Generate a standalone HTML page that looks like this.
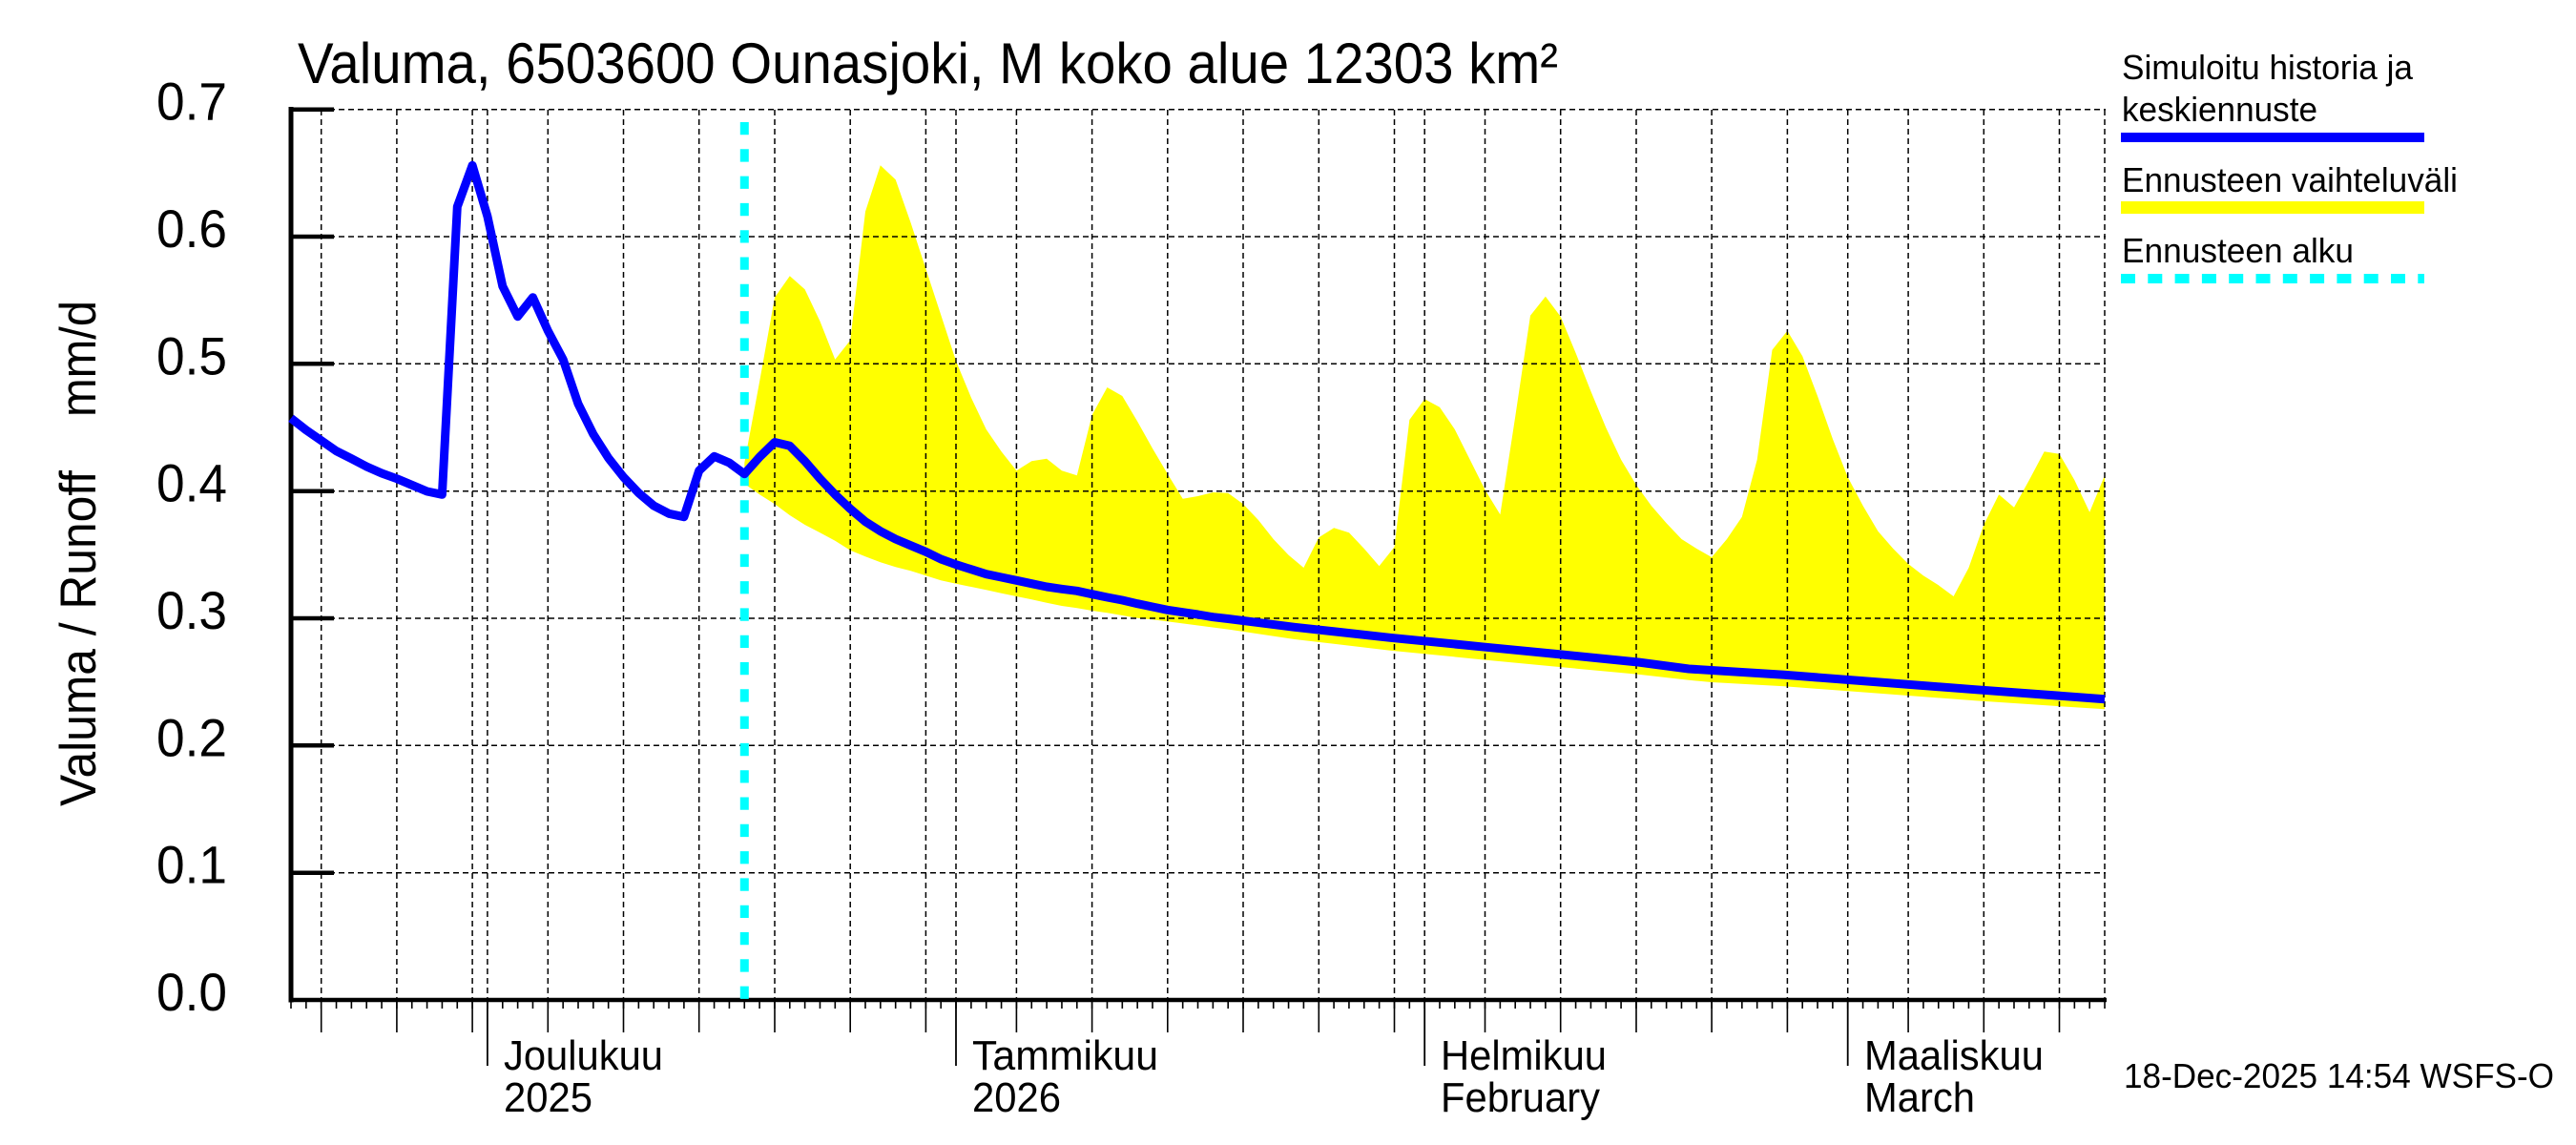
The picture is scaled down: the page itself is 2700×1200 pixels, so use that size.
<!DOCTYPE html>
<html>
<head>
<meta charset="utf-8">
<style>
html,body{margin:0;padding:0;background:#fff;}
svg{display:block;}
text{font-family:"Liberation Sans",Arial,Helvetica,sans-serif;fill:#000;}
</style>
</head>
<body>
<svg width="2700" height="1200" viewBox="0 0 2700 1200" xmlns="http://www.w3.org/2000/svg">
<rect x="0" y="0" width="2700" height="1200" fill="#fff"/>

<!-- Yellow forecast range -->
<polygon fill="#ffff00" points="
780.3,485 796.1,400 812,311.7 827.8,289.3 843.6,303.3 859.5,336.7 875.3,376.7 891.2,356.7 907,221.7 922.8,173.3
938.7,188.3 954.5,233.3 970.4,281.7 986.2,330 1002,378.3 1017.9,416.7 1033.7,450 1049.6,473.3 1065.4,493.3 1081.3,483.3
1097.1,480.7 1112.9,493.3 1128.8,498.3 1144.6,435 1160.5,406 1176.3,415 1192.2,441.7 1208,470 1223.8,496.7 1239.7,522.7
1255.5,520 1271.4,516 1287.2,516.7 1303,528.3 1318.9,545 1334.7,565 1350.6,581.7 1366.4,595 1382.3,563.3 1398.1,553.3
1414,558.3 1429.8,575 1445.6,593.3 1461.5,573.3 1477.3,440 1493.2,418.3 1509,426.7 1524.8,450 1540.7,481.7 1556.5,513.3
1572.4,539.3 1588.2,436.7 1604,330.7 1619.9,310.7 1635.7,331.7 1651.6,370 1667.4,410 1683.3,448.3 1699.1,481.7 1715,508.3
1730.8,530 1746.6,548.3 1762.5,565 1778.3,575 1794.1,584 1810,565 1825.8,541.7 1841.7,481.7 1857.5,366.7 1873.4,346.7
1889.2,373.3 1905,415 1920.9,460 1936.7,500 1952.6,530 1968.4,556.7 1984.3,575 2000.1,591 2015.9,603.3 2031.8,613.3
2047.6,625 2063.5,595 2079.3,550 2095.1,518.3 2111,531.7 2126.8,503.3 2142.7,473.3 2158.5,475.7 2174.4,503.3 2190.2,536.7
2206,498.3
2206,743.3 2070,734.3 1970,726.7 1870,719.3 1794,715 1770,712.7 1717,706.7 1637,699.3 1558,691.7 1457,681.7 1357,670
1290,660 1208,649.3 1192.2,647.7 1176.3,645 1160.5,642.3 1144.6,640 1128.8,637.3 1112.9,635 1097.1,631.7 1081.3,628.3
1065.4,625 1049.6,621.7 1033.7,618.3 1017.9,615 1002,611.7 986.2,608.3 970.4,603.3 954.5,598.3 938.7,594.3 922.8,589.3
907,583.3 891.2,576.7 875.3,566.7 859.5,558.3 843.6,550 827.8,540 812,528.3 796.1,518.3 780.3,507"/>

<!-- Grid lines -->
<g stroke="#000" stroke-width="1.5" stroke-dasharray="6 4" fill="none">
<path d="M305 914.7H2207M305 781.3H2207M305 648H2207M305 514.7H2207M305 381.3H2207M305 248H2207M305 114.7H2207"/>
<path d="M336.7 115V1048M415.9 115V1048M495.1 115V1048M510.9 115V1048M574.3 115V1048M653.5 115V1048M732.7 115V1048M812 115V1048M891.2 115V1048M970.4 115V1048M1002 115V1048M1065.4 115V1048M1144.6 115V1048M1223.8 115V1048M1303 115V1048M1382.3 115V1048M1461.5 115V1048M1493.2 115V1048M1556.5 115V1048M1635.7 115V1048M1715 115V1048M1794.1 115V1048M1873.4 115V1048M1936.7 115V1048M2000.1 115V1048M2079.3 115V1048M2158.5 115V1048M2206 115V1048"/>
</g>

<!-- Axes -->
<g stroke="#000" fill="none">
<line x1="305" y1="112" x2="305" y2="1050.5" stroke-width="5"/>
<line x1="302.5" y1="1048" x2="2208" y2="1048" stroke-width="4.5"/>
<path stroke-width="4.5" d="M305 914.7H350M305 781.3H350M305 648H350M305 514.7H350M305 381.3H350M305 248H350M305 114.7H350"/>
<line x1="304.2" y1="1052.5" x2="2208" y2="1052.5" stroke-width="9" stroke-dasharray="1.6 14.242"/>
<path stroke-width="1.6" d="M336.7 1048V1082M415.9 1048V1082M495.1 1048V1082M574.3 1048V1082M653.5 1048V1082M732.7 1048V1082M812 1048V1082M891.2 1048V1082M970.4 1048V1082M1065.4 1048V1082M1144.6 1048V1082M1223.8 1048V1082M1303 1048V1082M1382.3 1048V1082M1461.5 1048V1082M1556.5 1048V1082M1635.7 1048V1082M1715 1048V1082M1794.1 1048V1082M1873.4 1048V1082M2000.1 1048V1082M2079.3 1048V1082M2158.5 1048V1082"/>
<path stroke-width="1.8" d="M510.9 1048V1117M1002 1048V1117M1493.2 1048V1117M1936.7 1048V1117"/>
</g>

<!-- Forecast start line -->
<line x1="780.3" y1="128" x2="780.3" y2="1048" stroke="#00ffff" stroke-width="9" stroke-dasharray="13.3 15"/>

<!-- Blue series -->
<polyline fill="none" stroke="#0000ff" stroke-width="9" stroke-linejoin="round" points="
305,438.3 320.8,450.7 336.7,461.7 352.5,472.7 368.4,480.7 384.2,489 400.1,496 415.9,501.7 431.7,508.3 447.6,515
463.4,518.3 479.3,216.7 495.1,173.3 510.9,226.7 526.8,300 542.6,331.7 558.5,311.7 574.3,346.7 590.2,376.7 606,423.3
621.8,455 637.7,480 653.5,500 669.4,516.7 685.2,530 701.1,538.3 716.9,541.7 732.7,493.3 748.6,478.3 764.4,485
780.3,496.7 796.1,479 812,463.5 827.8,467.3 843.6,483.3 859.5,501.7 875.3,518.3 891.2,533.3 907,546.7 922.8,556.7
938.7,565 954.5,571.7 970.4,578.3 986.2,586 1002,591.7 1017.9,596.7 1033.7,601.7 1049.6,605 1065.4,608.3 1081.3,611.7
1097.1,615 1112.9,617.3 1128.8,619.3 1144.6,622.7 1160.5,626 1176.3,629 1192.2,632.7 1208,636 1223.8,639.3 1239.7,641.7
1255.5,644 1271.4,646.7 1287.2,648.5 1357,657.3 1457,668.3 1558,678.3 1637,686 1717,694 1770,701 1870,707.3 1970,715
2070,722.7 2206,732.7"/>

<!-- Title -->
<text x="312" y="87" font-size="60" textLength="1321" lengthAdjust="spacingAndGlyphs">Valuma, 6503600 Ounasjoki, M koko alue 12303 km²</text>

<!-- Y tick labels -->
<g font-size="56">
<text x="164" y="1059" textLength="74" lengthAdjust="spacingAndGlyphs">0.0</text>
<text x="164" y="925.7" textLength="74" lengthAdjust="spacingAndGlyphs">0.1</text>
<text x="164" y="792.3" textLength="74" lengthAdjust="spacingAndGlyphs">0.2</text>
<text x="164" y="659" textLength="74" lengthAdjust="spacingAndGlyphs">0.3</text>
<text x="164" y="525.7" textLength="74" lengthAdjust="spacingAndGlyphs">0.4</text>
<text x="164" y="392.3" textLength="74" lengthAdjust="spacingAndGlyphs">0.5</text>
<text x="164" y="259" textLength="74" lengthAdjust="spacingAndGlyphs">0.6</text>
<text x="164" y="125.7" textLength="74" lengthAdjust="spacingAndGlyphs">0.7</text>
</g>

<!-- Y axis title -->
<text transform="translate(100,845) rotate(-90)" font-size="53" textLength="352" lengthAdjust="spacingAndGlyphs">Valuma / Runoff</text>
<text transform="translate(100,437) rotate(-90)" font-size="53" textLength="122" lengthAdjust="spacingAndGlyphs">mm/d</text>

<!-- Month labels -->
<g font-size="44">
<text x="528" y="1121" textLength="167" lengthAdjust="spacingAndGlyphs">Joulukuu</text>
<text x="528" y="1165" textLength="93" lengthAdjust="spacingAndGlyphs">2025</text>
<text x="1019" y="1121" textLength="195" lengthAdjust="spacingAndGlyphs">Tammikuu</text>
<text x="1019" y="1165" textLength="93" lengthAdjust="spacingAndGlyphs">2026</text>
<text x="1510" y="1121" textLength="174" lengthAdjust="spacingAndGlyphs">Helmikuu</text>
<text x="1510" y="1165" textLength="167" lengthAdjust="spacingAndGlyphs">February</text>
<text x="1954" y="1121" textLength="188" lengthAdjust="spacingAndGlyphs">Maaliskuu</text>
<text x="1954" y="1165" textLength="116" lengthAdjust="spacingAndGlyphs">March</text>
</g>

<!-- Legend -->
<g font-size="36">
<text x="2224" y="83" textLength="305" lengthAdjust="spacingAndGlyphs">Simuloitu historia ja</text>
<text x="2224" y="127" textLength="205" lengthAdjust="spacingAndGlyphs">keskiennuste</text>
<text x="2224" y="201" textLength="352" lengthAdjust="spacingAndGlyphs">Ennusteen vaihteluväli</text>
<text x="2224" y="275" textLength="243" lengthAdjust="spacingAndGlyphs">Ennusteen alku</text>
<text x="2226" y="1140" textLength="451" lengthAdjust="spacingAndGlyphs">18-Dec-2025 14:54 WSFS-O</text>
</g>
<rect x="2223" y="139" width="318" height="10" fill="#0000ff"/>
<rect x="2223" y="211" width="318" height="13" fill="#ffff00"/>
<line x1="2223" y1="292" x2="2541" y2="292" stroke="#00ffff" stroke-width="10" stroke-dasharray="15 13.3"/>
</svg>
</body>
</html>
